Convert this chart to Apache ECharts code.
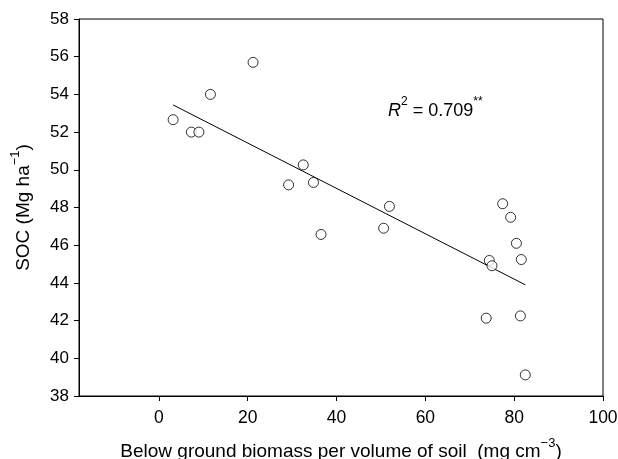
<!DOCTYPE html>
<html>
<head>
<meta charset="utf-8">
<script src="https://cdn.jsdelivr.net/npm/echarts@6/dist/echarts.min.js"></script>
<style>
html,body{margin:0;padding:0;background:#fff;}
#c{width:618px;height:459px;}
</style>
</head>
<body>
<div id="c"></div>
<script>
var biomass = [3.2, 7.3, 9.0, 11.6, 21.2, 29.2, 32.5, 34.8, 36.5, 50.6, 51.9, 73.7, 74.4, 75.0, 77.4, 79.2, 80.5, 81.4, 81.6, 82.5];
var soc     = [52.66, 52.0, 52.0, 54.0, 55.7, 49.2, 50.26, 49.33, 46.57, 46.9, 48.06, 42.13, 45.19, 44.91, 48.2, 47.48, 46.1, 42.25, 45.24, 39.12];
var fitX = [3.2, 82.5];
var fitY = [53.44, 43.9];
var xTicks = [0, 20, 40, 60, 80, 100];
var r2Text = '0.709**';

var points = biomass.map(function (x, i) { return [x, soc[i]]; });
var fitLine = fitX.map(function (x, i) { return [x, fitY[i]]; });

var font = '"Liberation Sans", Arial, sans-serif';
var chart = echarts.init(document.getElementById('c'));
chart.setOption({
  animation: false,
  backgroundColor: '#fff',
  grid: { left: 79, right: 15, top: 19, bottom: 63, show: true, borderColor: '#000', borderWidth: 1, containLabel: false, outerBoundsMode: 'none' },
  xAxis: {
    type: 'value', min: -18, max: 100,
    axisLine: { onZero: false, lineStyle: { color: '#000', width: 1 } },
    axisTick: { customValues: xTicks, length: 5, lineStyle: { color: '#000' } },
    axisLabel: { customValues: xTicks, color: '#000', fontFamily: font, fontSize: 17.5, margin: 13 },
    splitLine: { show: false },
    name: '{n|Below ground biomass per volume of soil  (mg cm}{s|\u22123}{n|)}',
    nameLocation: 'middle', nameGap: 41,
    nameTextStyle: {
      rich: {
        n: { fontFamily: font, fontSize: 19, color: '#000', lineHeight: 24, verticalAlign: 'bottom' },
        s: { fontFamily: font, fontSize: 13, color: '#000', lineHeight: 24, verticalAlign: 'top' }
      }
    }
  },
  yAxis: {
    type: 'value', min: 38, max: 58, interval: 2,
    axisLine: { show: true, onZero: false, lineStyle: { color: '#000', width: 1 } },
    axisTick: { show: true, length: 5, lineStyle: { color: '#000' } },
    axisLabel: { color: '#000', fontFamily: font, fontSize: 17, margin: 10 },
    splitLine: { show: false },
    name: '{n|SOC (Mg ha}{s|\u22121}{n|)}',
    nameLocation: 'middle', nameGap: 46, nameRotate: 90,
    nameTextStyle: {
      rich: {
        n: { fontFamily: font, fontSize: 19, color: '#000', lineHeight: 24, verticalAlign: 'bottom' },
        s: { fontFamily: font, fontSize: 13, color: '#000', lineHeight: 24, verticalAlign: 'top' }
      }
    }
  },
  series: [
    {
      type: 'line', data: fitLine, symbol: 'none', silent: true,
      lineStyle: { color: '#000', width: 1 }, z: 2
    },
    {
      type: 'scatter', data: points, symbol: 'circle', symbolSize: 10,
      itemStyle: { color: '#fff', borderColor: '#000', borderWidth: 1 }, z: 3
    }
  ],
  graphic: [{
    type: 'text', left: 388, top: 96, z: 10,
    style: {
      text: '{i|R}{s|2}{n| = ' + r2Text.replace('**', '') + '}{s|**}',
      rich: {
        i: { fontFamily: font, fontSize: 18, fontStyle: 'italic', fill: '#000', lineHeight: 24, verticalAlign: 'bottom' },
        n: { fontFamily: font, fontSize: 18, fill: '#000', lineHeight: 24, verticalAlign: 'bottom' },
        s: { fontFamily: font, fontSize: 12, fill: '#000', lineHeight: 24, verticalAlign: 'top' }
      }
    }
  }]
});
</script>
</body>
</html>
